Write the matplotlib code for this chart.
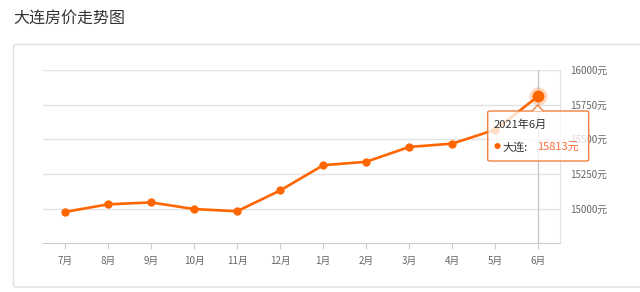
import matplotlib
matplotlib.use('Agg')
import matplotlib.pyplot as plt
from matplotlib.patches import FancyBboxPatch, Polygon
import numpy as np

plt.rcParams['font.family'] = ['Noto Sans CJK SC', 'DejaVu Sans']

months = ['7月', '8月', '9月', '10月', '11月', '12月', '1月', '2月', '3月', '4月', '5月', '6月']
prices = [14976, 15031, 15045, 14997, 14981, 15131, 15313, 15338, 15445, 15469, 15570, 15813]
yticks = [15000, 15250, 15500, 15750, 16000]
title = '大连房价走势图'
tip_date = '2021年6月'
tip_name = '大连:'
tip_value = '15813元'

W, H = 640, 292
fig = plt.figure(figsize=(W / 100, H / 100), dpi=100)

def fx(px):
    return px / W

def fy(py):
    return 1 - py / H

# title and outer panel
fig.text(fx(13), fy(19), title, fontsize=11.5, color='#333333', va='center', ha='left')
panel = FancyBboxPatch((fx(13.5), fy(287)), fx(700), fy(44.5) - fy(287),
                       boxstyle='round,pad=0,rounding_size=0.006',
                       transform=fig.transFigure, fc='white', ec='#dddddd', lw=1, zorder=-5)
fig.patches.append(panel)

ax = fig.add_axes([fx(43.3), fy(243.3), fx(560) - fx(43.3), fy(70) - fy(243.3)])
ax.set_facecolor('none')
ax.set_zorder(1)
x = np.arange(len(months))
ax.set_xlim(-0.5, len(months) - 0.5)
ax.set_ylim(14750, 16000)

for v in yticks:
    ax.axhline(v, color='#e3e3e3', lw=1, zorder=0)

for s in ['left', 'top']:
    ax.spines[s].set_visible(False)
ax.spines['right'].set_color('#e3e3e3')
ax.spines['bottom'].set_color('#cccccc')

ax.yaxis.tick_right()
ax.set_yticks(yticks)
ax.set_yticklabels([f'{v}元' for v in yticks])
ax.tick_params(axis='y', length=0, pad=7, labelsize=7, labelcolor='#666666')
ax.set_xticks(x)
ax.set_xticklabels(months)
ax.tick_params(axis='x', length=4, color='#cccccc', pad=5, labelsize=7, labelcolor='#666666')

# crosshair
ax.axvline(x[-1], color='#c8c8c8', lw=1, zorder=1)

ax.plot(x, prices, color='#ff6600', lw=1.9, marker='o', ms=5, zorder=3, solid_joinstyle='round')
ax.plot(x[-1], prices[-1], 'o', ms=13, color='#ff6600', alpha=0.25, mec='none', zorder=4)
ax.plot(x[-1], prices[-1], 'o', ms=7.5, color='#ff6600', zorder=5)

# tooltip
bx0, by0, bx1, by1 = 487.7, 111, 588.7, 161
tip = FancyBboxPatch((fx(bx0), fy(by1)), fx(bx1 - bx0), fy(by0) - fy(by1),
                     boxstyle='round,pad=0,rounding_size=0.004',
                     transform=fig.transFigure, fc=(1, 1, 1, 0.78), ec='#f08040', lw=1, zorder=10)
fig.patches.append(tip)
arrow = Polygon([(fx(532), fy(111.3)), (fx(537.7), fy(105)), (fx(543.5), fy(111.3))],
                closed=False, transform=fig.transFigure, fc='white', ec='#f08040', lw=1, zorder=11)
fig.patches.append(arrow)
fig.text(fx(494), fy(125), tip_date, fontsize=8, color='#333333', va='center', ha='left', zorder=12)
fig.text(fx(496.7), fy(147), '●', fontsize=5, color='#ff6600', va='center', ha='center', zorder=12)
fig.text(fx(502), fy(147), tip_name, fontsize=8, color='#333333', va='center', ha='left', zorder=12)
fig.text(fx(537.5), fy(147), tip_value, fontsize=8, color='#ff6b3a', va='center', ha='left', zorder=12)

fig.savefig('out.png', dpi=100)
